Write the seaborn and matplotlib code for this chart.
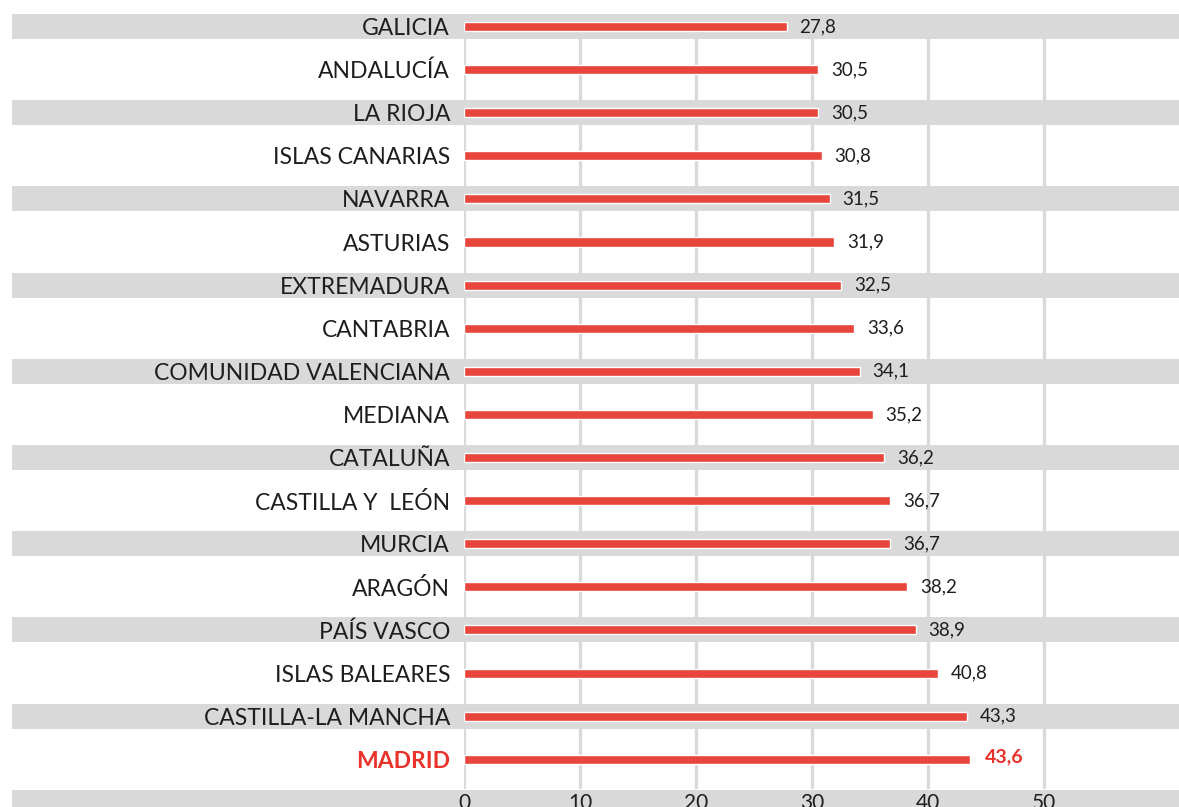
import matplotlib
matplotlib.use('Agg')
import matplotlib.pyplot as plt
import seaborn as sns

# Data
regions = ['GALICIA', 'ANDALUCÍA', 'LA RIOJA', 'ISLAS CANARIAS', 'NAVARRA', 'ASTURIAS',
           'EXTREMADURA', 'CANTABRIA', 'COMUNIDAD VALENCIANA', 'MEDIANA', 'CATALUÑA',
           'CASTILLA Y  LEÓN', 'MURCIA', 'ARAGÓN', 'PAÍS VASCO', 'ISLAS BALEARES',
           'CASTILLA-LA MANCHA', 'MADRID']
values = [27.8, 30.5, 30.5, 30.8, 31.5, 31.9, 32.5, 33.6, 34.1, 35.2, 36.2,
          36.7, 36.7, 38.2, 38.9, 40.8, 43.3, 43.6]
value_labels = ['27,8', '30,5', '30,5', '30,8', '31,5', '31,9', '32,5', '33,6', '34,1',
                '35,2', '36,2', '36,7', '36,7', '38,2', '38,9', '40,8', '43,3', '43,6']
highlight = 'MADRID'
x_ticks = [0, 10, 20, 30, 40, 50]

RED = '#E8453C'
HRED = '#E8322A'
GREY = '#D9D9D9'
DARK = '#1E1E1E'

sns.set_style('white')
plt.rcParams['font.family'] = ['Lato', 'DejaVu Sans']

fig = plt.figure(figsize=(11.79, 8.07), dpi=100)
ax = fig.add_axes([464 / 1179, 18 / 807, 715 / 1179, 789 / 807])

y_top, y_bot = -0.615, 17.69

# alternating grey bands, stretched under the labels
left_frac = -(464 - 12) / 715
for i in range(0, len(regions) + 1, 2):
    band = ax.axhspan(i - 0.29, i + 0.29, xmin=left_frac, xmax=1, color=GREY,
                      lw=0, zorder=0)
    band.set_clip_on(False)

# vertical grid lines, starting below the first band
ax.vlines(x_ticks, -0.29, y_bot, color=GREY, lw=2.4, zorder=1)

sns.barplot(x=values, y=regions, orient='h', color=RED, width=0.21,
            saturation=1, ax=ax, zorder=3)

for i, (v, lab, reg) in enumerate(zip(values, value_labels, regions)):
    if reg == highlight:
        ax.text(v + 1.3, i - 0.05, lab, va='center', ha='left', fontsize=14,
                color=HRED, fontweight='bold')
    else:
        ax.text(v + 1.1, i, lab, va='center', ha='left', fontsize=13.5, color=DARK)

ax.set_xlim(0, 61.6)
ax.set_ylim(y_bot, y_top)
ax.set_xticks(x_ticks)
ax.grid(False)
ax.tick_params(axis='both', length=0)
ax.tick_params(axis='y', pad=10, labelsize=16.5, labelcolor=DARK)
ax.tick_params(axis='x', pad=3, labelsize=15, labelcolor=DARK)
for t in ax.get_yticklabels():
    if t.get_text() == highlight:
        t.set_color(HRED)
        t.set_fontweight('bold')
ax.set_xlabel('')
ax.set_ylabel('')
sns.despine(ax=ax, left=True, bottom=True)

fig.savefig('out.png', dpi=100)
